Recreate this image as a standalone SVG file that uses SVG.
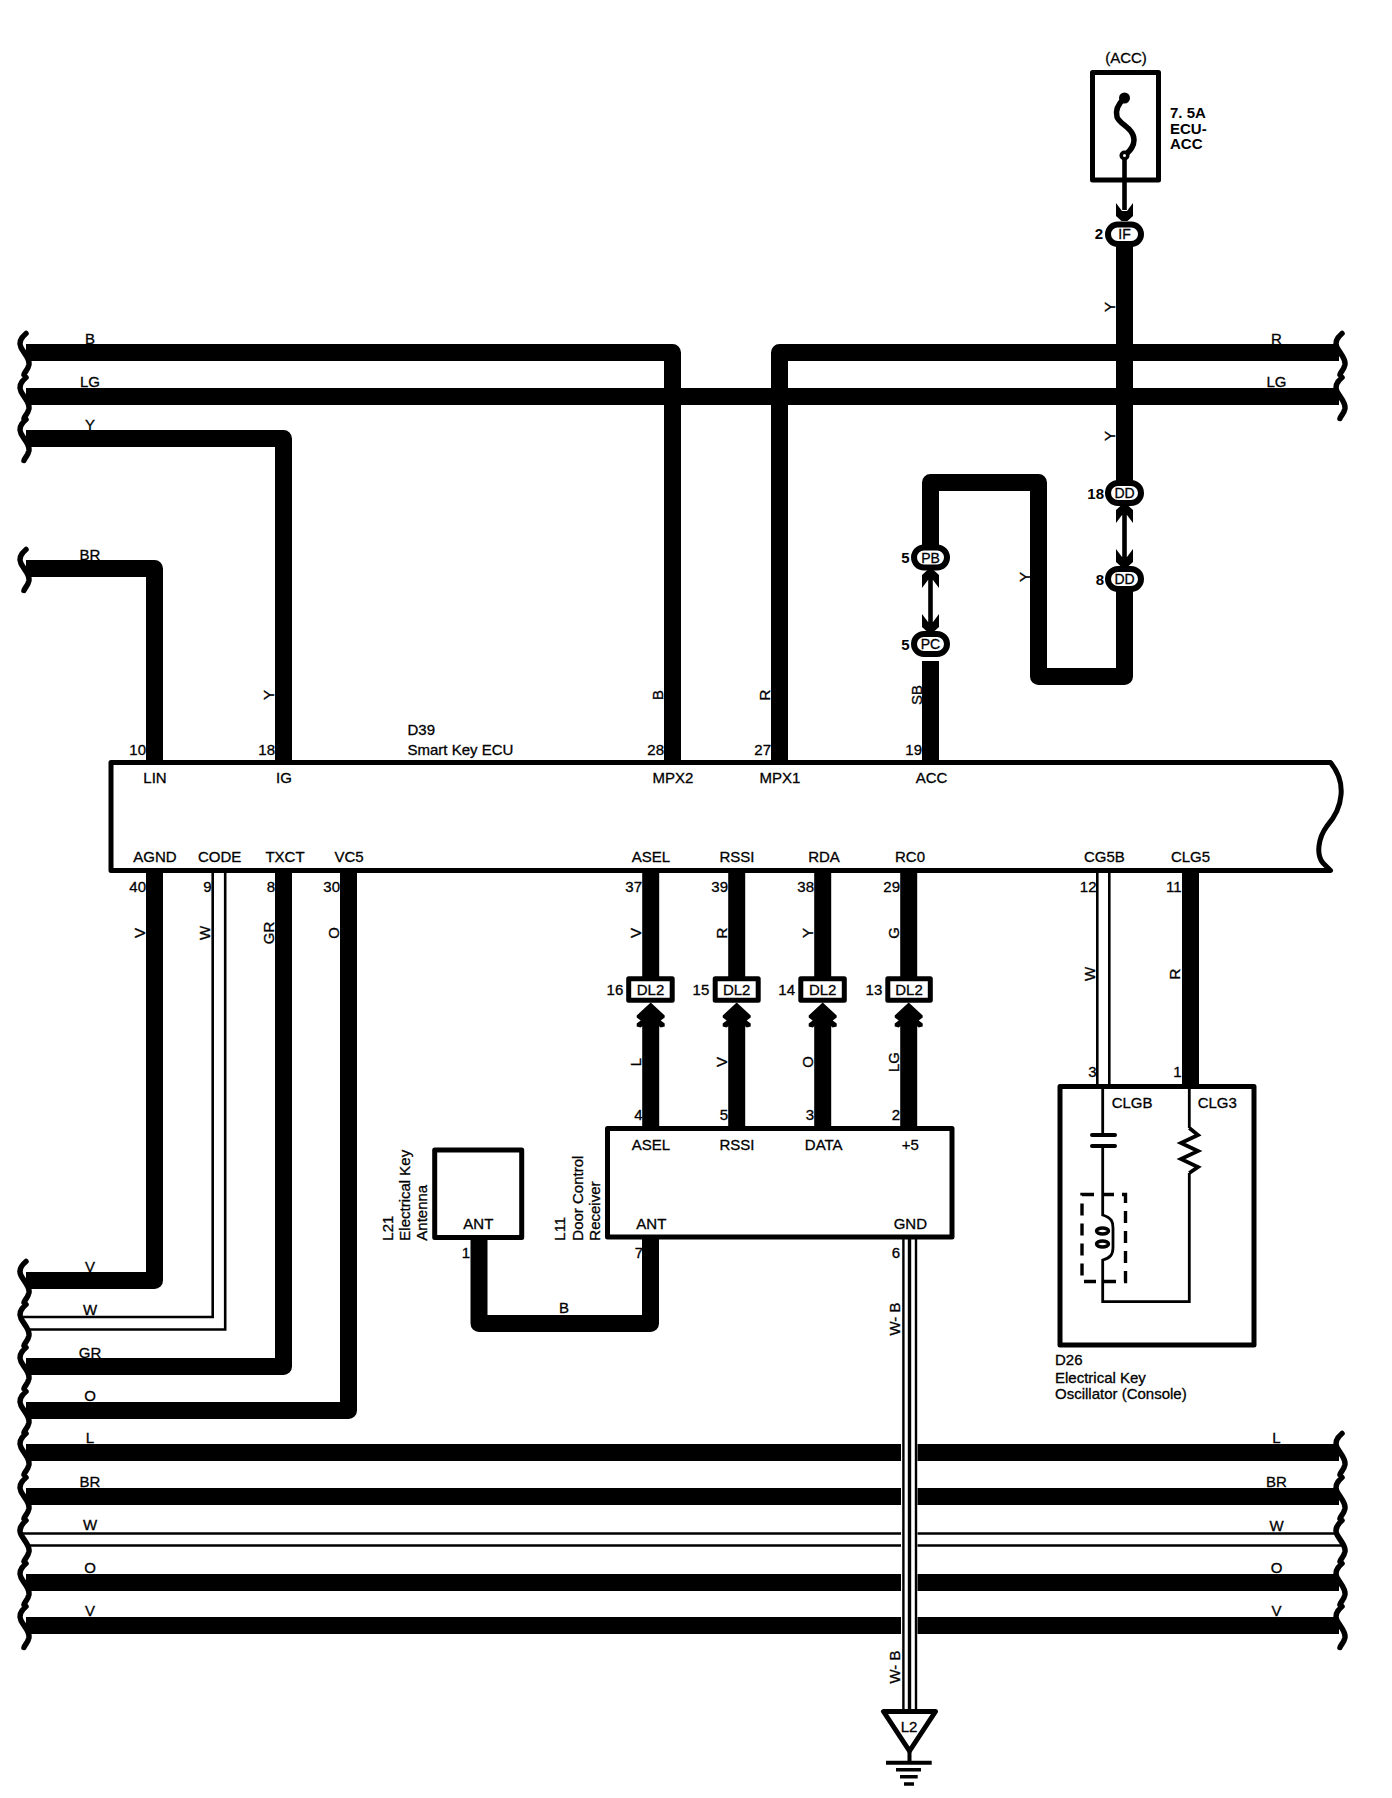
<svg xmlns="http://www.w3.org/2000/svg" width="1392" height="1798" viewBox="0 0 1392 1798">
<style>
text{font-family:"Liberation Sans",Arial,sans-serif;font-size:15px;fill:#000;stroke:#000;stroke-width:.3}
.m{text-anchor:middle}
.e{text-anchor:end}
.b{font-weight:bold;stroke-width:0}
.k{font-size:14px}
.w{fill:none;stroke:#000;stroke-width:17;stroke-linejoin:round}
.d{fill:none;stroke:#000;stroke-width:2.6;stroke-linejoin:miter}
.t{fill:none;stroke:#000;stroke-width:4.6}
.n{fill:#fff;stroke:#000;stroke-width:5;stroke-linejoin:round}
.f{fill:none;stroke:#000;stroke-width:5;stroke-linejoin:round}
.c{fill:none;stroke:#000;stroke-width:2.8}
.o{fill:#fff;stroke:#000;stroke-width:6}
.s{fill:none;stroke:#000;stroke-width:5.5;stroke-linecap:round}
</style>
<defs>
<path id="sq" class="s" d="M26,-19 C20,-14 19,-9 21,-5 C24,1 30,6 29,12 C28,17 25,19 24,22"/>
<path id="chev" d="M-8.5,-18 L-2.5,-10 L2.5,-10 L8.5,-18 L8.5,-5 L3,0 L-3,0 L-8.5,-5 Z"/>
<path id="dchev" d="M0,0 L14,13 L14,15 L10,18 L14,21 L14,24 L10,25 L0,17 L-10,25 L-14,24 L-14,21 L-10,18 L-14,15 L-14,13 Z"/>
</defs>
<rect width="1392" height="1798" fill="#fff"/>
<g id="connectors">
<path class="w" d="M26,352.5 H672.5 V762"/>
<path class="w" d="M26,396.5 H1339"/>
<path class="w" d="M26,438.5 H283.5 V762"/>
<path class="w" d="M26,568.5 H154.5 V762"/>
<path class="w" d="M1339,352.5 H779.5 V762"/>
<path class="w" d="M1124.5,240 V490"/>
<path class="w" d="M1124.5,585 V676.5 H1038.5 V482.5 H930.5 V552"/>
<path class="w" d="M930.5,661 V762"/>
<path class="t" d="M1124.5,155 V210"/>
<path class="t" d="M1124.5,507 V560"/>
<path class="t" d="M930.5,572 V625"/>
<use href="#chev" x="1124.5" y="221"/>
<use href="#chev" x="1124.5" y="567"/>
<use href="#chev" transform="translate(1124.5,505) rotate(180)"/>
<use href="#chev" x="930.5" y="632"/>
<use href="#chev" transform="translate(930.5,570) rotate(180)"/>
<path class="w" d="M154.5,870 V1280.5 H26"/>
<path class="d" d="M212.7,870 V1317 H22"/>
<path class="d" d="M225.2,870 V1329.5 H30"/>
<path class="w" d="M283.5,870 V1366.5 H26"/>
<path class="w" d="M348.5,870 V1410.5 H26"/>
<path class="w" d="M26,1452.5 H1339"/>
<path class="w" d="M26,1496.5 H1339"/>
<path class="d" d="M22,1533.5 H1336"/>
<path class="d" d="M30,1545.5 H1344"/>
<path class="w" d="M26,1582.5 H1339"/>
<path class="w" d="M26,1625.5 H1339"/>
<path class="w" d="M650.7,870 V980"/>
<path class="w" d="M736.7,870 V980"/>
<path class="w" d="M822.7,870 V980"/>
<path class="w" d="M908.7,870 V980"/>
<path class="w" d="M650.7,1012 V1128"/>
<path class="w" d="M736.7,1012 V1128"/>
<path class="w" d="M822.7,1012 V1128"/>
<path class="w" d="M908.7,1012 V1128"/>
<use href="#dchev" x="650.7" y="1002.5"/>
<use href="#dchev" x="736.7" y="1002.5"/>
<use href="#dchev" x="822.7" y="1002.5"/>
<use href="#dchev" x="908.7" y="1002.5"/>
<path class="d" d="M1097.3,870 V1086"/>
<path class="d" d="M1109.3,870 V1086"/>
<path class="w" d="M1190.5,870 V1086"/>
<path class="w" d="M479,1238 V1323.5 H650.5 V1238"/>
<rect x="901" y="1238" width="16.5" height="473" fill="#fff"/>
<path fill="none" stroke="#000" stroke-width="2.4" d="M903.4,1238 V1711 M916,1238 V1711"/>
<path fill="none" stroke="#000" stroke-width="3.4" d="M909.5,1238 V1711"/>
<g id="breaks-left">
<use href="#sq" y="352.5"/><use href="#sq" y="396.5"/><use href="#sq" y="438.5"/><use href="#sq" y="568.5"/>
<use href="#sq" y="1280.5"/><use href="#sq" y="1323.5"/><use href="#sq" y="1366.5"/><use href="#sq" y="1410.5"/>
<use href="#sq" y="1452.5"/><use href="#sq" y="1496.5"/><use href="#sq" y="1539.5"/><use href="#sq" y="1582.5"/><use href="#sq" y="1625.5"/>
</g>
<g id="breaks-right">
<use href="#sq" x="1316" y="352.5"/><use href="#sq" x="1316" y="396.5"/>
<use href="#sq" x="1316" y="1452.5"/><use href="#sq" x="1316" y="1496.5"/><use href="#sq" x="1316" y="1539.5"/><use href="#sq" x="1316" y="1582.5"/><use href="#sq" x="1316" y="1625.5"/>
</g>
<g id="wire-labels">
<text class="m" x="90" y="344">B</text><text class="m" x="90" y="387">LG</text><text class="m" x="90" y="430">Y</text><text class="m" x="90" y="560">BR</text>
<text class="m" x="1276.5" y="344">R</text><text class="m" x="1276.5" y="387">LG</text>
<text class="m" x="90" y="1272">V</text><text class="m" x="90" y="1315">W</text><text class="m" x="90" y="1358">GR</text><text class="m" x="90" y="1401">O</text>
<text class="m" x="90" y="1443">L</text><text class="m" x="90" y="1487">BR</text><text class="m" x="90" y="1530">W</text><text class="m" x="90" y="1573">O</text><text class="m" x="90" y="1616">V</text>
<text class="m" x="1276.5" y="1443">L</text><text class="m" x="1276.5" y="1487">BR</text><text class="m" x="1276.5" y="1531">W</text><text class="m" x="1276.5" y="1573">O</text><text class="m" x="1276.5" y="1616">V</text>
<text class="m" x="564" y="1313">B</text>
<text class="m" transform="translate(1115,307) rotate(-90)">Y</text>
<text class="m" transform="translate(1115,436) rotate(-90)">Y</text>
<text class="m" transform="translate(1029.7,577) rotate(-90)">Y</text>
<text class="m" transform="translate(921.5,695) rotate(-90)">SB</text>
<text class="m" transform="translate(274,695) rotate(-90)">Y</text>
<text class="m" transform="translate(663,695) rotate(-90)">B</text>
<text class="m" transform="translate(770,695) rotate(-90)">R</text>
<text class="m" transform="translate(145,933) rotate(-90)">V</text>
<text class="m" transform="translate(210,933) rotate(-90)">W</text>
<text class="m" transform="translate(274,933) rotate(-90)">GR</text>
<text class="m" transform="translate(339,933) rotate(-90)">O</text>
<text class="m" transform="translate(640.7,933) rotate(-90)">V</text>
<text class="m" transform="translate(727,933) rotate(-90)">R</text>
<text class="m" transform="translate(813,933) rotate(-90)">Y</text>
<text class="m" transform="translate(899,933) rotate(-90)">G</text>
<text class="m" transform="translate(640.7,1062) rotate(-90)">L</text>
<text class="m" transform="translate(727,1062) rotate(-90)">V</text>
<text class="m" transform="translate(813,1062) rotate(-90)">O</text>
<text class="m" transform="translate(899,1062) rotate(-90)">LG</text>
<text class="m" transform="translate(1095,974) rotate(-90)">W</text>
<text class="m" transform="translate(1180,974) rotate(-90)">R</text>
<text class="m" transform="translate(900,1319) rotate(-90)">W- B</text>
<text class="m" transform="translate(900,1667) rotate(-90)">W- B</text>
</g>
</g>
<g id="fuse">
<text class="m" x="1126" y="63">(ACC)</text>
<rect class="f" x="1092.5" y="72.5" width="66" height="107.5"/>
<path fill="none" stroke="#000" stroke-width="5.5" d="M1124.5,98 C1118,104 1115,110 1117,117 C1120,125 1134,128 1134,140 C1134,148 1128,152 1124.5,156"/>
<circle cx="1124.5" cy="98" r="5.5"/>
<circle cx="1124.5" cy="155.5" r="5"/>
<circle cx="1124.5" cy="155.5" r="1.5" fill="#fff"/>
<text class="b" x="1170" y="118">7. 5A</text>
<text class="b" x="1170" y="134">ECU-</text>
<text class="b" x="1170" y="149">ACC</text>
</g>
<g id="conn-IF"><rect class="o" x="1108" y="224.5" width="33" height="19.5" rx="9.75"/><text class="m k" x="1124.5" y="239">IF</text><text class="m b" x="1099" y="239">2</text></g>
<g id="conn-DD18"><rect class="o" x="1108" y="483" width="33" height="20" rx="10"/><text class="m k" x="1124.5" y="498">DD</text><text class="e b" x="1104" y="499">18</text></g>
<g id="conn-DD8"><rect class="o" x="1108" y="569" width="33" height="20" rx="10"/><text class="m k" x="1124.5" y="584">DD</text><text class="e b" x="1104" y="584.5">8</text></g>
<g id="conn-PB"><rect class="o" x="914" y="547.5" width="33" height="20" rx="10"/><text class="m k" x="930.5" y="562.5">PB</text><text class="e b" x="909.5" y="563">5</text></g>
<g id="conn-PC"><rect class="o" x="914" y="634" width="33" height="20" rx="10"/><text class="m k" x="930.5" y="649">PC</text><text class="e b" x="909.5" y="649.5">5</text></g>
<g id="ecu">
<path class="n" d="M111,762.5 H1330.5 C1339,773 1342,785 1341,795 C1340,808 1334,818 1327,826 C1318,838 1316,855 1323,863 L1330.5,870.5 H111 Z"/>
<text x="407.5" y="735">D39</text><text x="407.5" y="755">Smart Key ECU</text>
<text class="m" x="155" y="782.5">LIN</text><text class="m" x="284" y="782.5">IG</text><text class="m" x="673" y="782.5">MPX2</text><text class="m" x="780" y="782.5">MPX1</text><text class="m" x="931.5" y="782.5">ACC</text>
<text class="m" x="155" y="861.5">AGND</text><text class="m" x="219.7" y="861.5">CODE</text><text class="m" x="285" y="861.5">TXCT</text><text class="m" x="349" y="861.5">VC5</text>
<text class="m" x="651" y="861.5">ASEL</text><text class="m" x="737" y="861.5">RSSI</text><text class="m" x="824" y="861.5">RDA</text><text class="m" x="910" y="861.5">RC0</text><text class="m" x="1104.4" y="861.5">CG5B</text><text class="m" x="1190.5" y="861.5">CLG5</text>
<text class="e" x="146" y="755">10</text><text class="e" x="275" y="755">18</text><text class="e" x="664" y="755">28</text><text class="e" x="771" y="755">27</text><text class="e" x="922" y="755">19</text>
<text class="e" x="146" y="891.5">40</text><text class="e" x="211.5" y="891.5">9</text><text class="e" x="275" y="891.5">8</text><text class="e" x="340" y="891.5">30</text>
<text class="e" x="642" y="891.5">37</text><text class="e" x="728" y="891.5">39</text><text class="e" x="814" y="891.5">38</text><text class="e" x="900" y="891.5">29</text><text class="e" x="1096.5" y="891.5">12</text><text class="e" x="1181.5" y="891.5">11</text>
</g>
<g id="conn-DL2-16"><rect class="n" x="628.7" y="978.7" width="43.5" height="21.5"/><text class="m" x="650.5" y="995.3">DL2</text><text class="e" x="623.3" y="995.3">16</text></g>
<g id="conn-DL2-15"><rect class="n" x="715.2" y="978.7" width="43" height="21.5"/><text class="m" x="736.7" y="995.3">DL2</text><text class="e" x="709.3" y="995.3">15</text></g>
<g id="conn-DL2-14"><rect class="n" x="800.8" y="978.7" width="43.5" height="21.5"/><text class="m" x="822.7" y="995.3">DL2</text><text class="e" x="795" y="995.3">14</text></g>
<g id="conn-DL2-13"><rect class="n" x="887.8" y="978.7" width="42.5" height="21.5"/><text class="m" x="909" y="995.3">DL2</text><text class="e" x="882.3" y="995.3">13</text></g>
<g id="receiver">
<rect class="n" x="607.5" y="1128.5" width="344.5" height="108.5"/>
<text class="m" x="651" y="1149.5">ASEL</text><text class="m" x="737" y="1149.5">RSSI</text><text class="m" x="823.7" y="1149.5">DATA</text><text class="m" x="910.3" y="1149.5">+5</text>
<text class="m" x="651.3" y="1228.5">ANT</text><text class="m" x="910.3" y="1228.5">GND</text>
<text class="e" x="642.5" y="1120">4</text><text class="e" x="728" y="1120">5</text><text class="e" x="814" y="1120">3</text><text class="e" x="900" y="1120">2</text>
<text class="e" x="643" y="1258">7</text><text class="e" x="900" y="1258">6</text>
<text transform="translate(565,1240.7) rotate(-90)">L11</text>
<text transform="translate(582.7,1240.7) rotate(-90)">Door Control</text>
<text transform="translate(600,1240.7) rotate(-90)">Receiver</text>
</g>
<g id="antenna">
<rect class="n" x="434.7" y="1150" width="87" height="87.5"/>
<text class="m" x="478.3" y="1229">ANT</text>
<text class="e" x="470" y="1258">1</text>
<text transform="translate(392.7,1240.7) rotate(-90)">L21</text>
<text transform="translate(410,1240.7) rotate(-90)">Electrical Key</text>
<text transform="translate(427.3,1240.7) rotate(-90)">Antenna</text>
</g>
<g id="oscillator">
<rect class="n" x="1060" y="1086.5" width="194" height="258.5"/>
<path class="c" d="M1102.7,1086 V1135 M1102.7,1146 V1215 C1112,1218 1113,1222 1113,1228 V1247 C1113,1255 1110,1258 1102.7,1260 V1301.7 H1189.3 V1173 M1189.3,1128 V1086"/>
<path fill="none" stroke="#000" stroke-width="3.8" d="M1189.3,1128 L1198,1135 L1181,1143 L1198,1151 L1181,1159 L1198,1167 L1189.3,1173"/>
<path fill="none" stroke="#000" stroke-width="4" stroke-linecap="round" d="M1092,1135 H1115 M1092,1146 H1115"/>
<ellipse cx="1102.5" cy="1231" rx="6" ry="3" fill="none" stroke="#000" stroke-width="3.4"/>
<ellipse cx="1102.5" cy="1244" rx="6" ry="3" fill="none" stroke="#000" stroke-width="3.4"/>
<rect x="1082" y="1194.5" width="43.5" height="87" fill="none" stroke="#000" stroke-width="3.4" stroke-dasharray="12 8"/>
<text x="1111.7" y="1107.7">CLGB</text><text x="1197.7" y="1107.7">CLG3</text>
<text class="e" x="1096.5" y="1077">3</text><text class="e" x="1181.7" y="1077">1</text>
<text x="1055" y="1365">D26</text><text x="1055" y="1382.7">Electrical Key</text><text x="1055" y="1399.3">Oscillator (Console)</text>
</g>
<g id="ground-L2">
<path fill="#fff" stroke="#000" stroke-width="5" stroke-linejoin="round" d="M883.5,1711.5 H935.5 L909.5,1751 Z"/>
<path stroke="#000" fill="none" stroke-width="4" d="M909.5,1751 V1762 M886,1762.7 H931.7"/>
<path stroke="#000" fill="none" stroke-width="3.5" d="M896,1769.8 H921 M900,1776.8 H917.7 M904,1784 H914"/>
<text class="m" x="909" y="1731.5">L2</text>
</g>
</svg>
